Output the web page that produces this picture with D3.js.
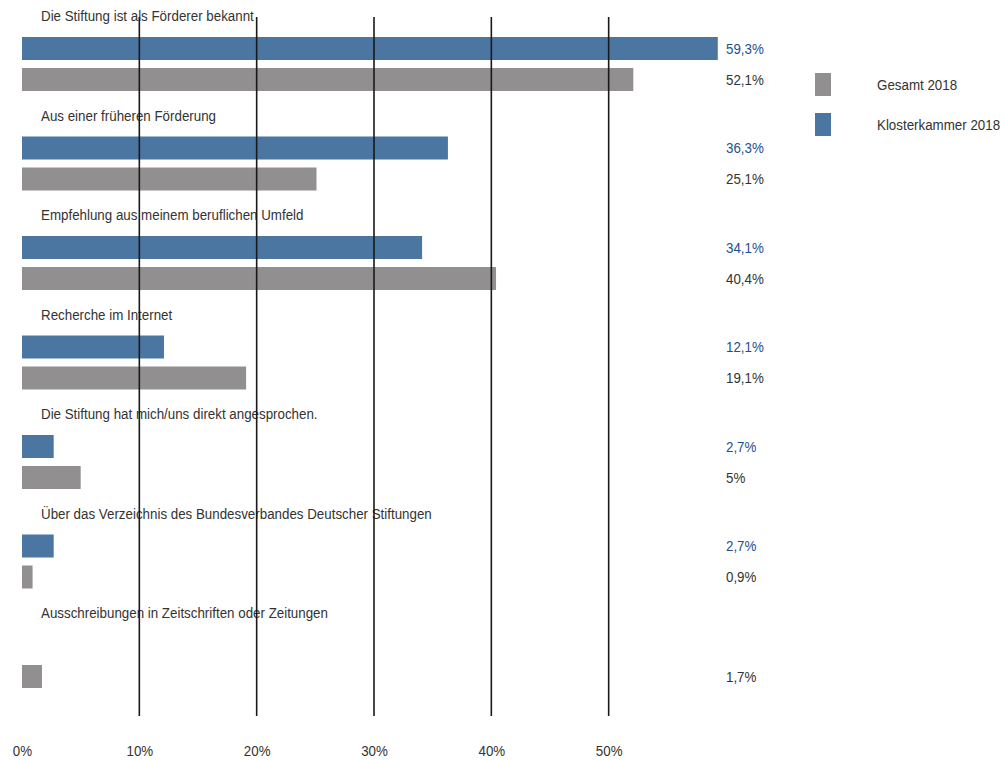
<!DOCTYPE html>
<html>
<head>
<meta charset="utf-8">
<script src="https://cdn.jsdelivr.net/npm/d3@7"></script>
<style>
  html, body { margin: 0; padding: 0; background: #ffffff; }
  svg text { font-family: "Liberation Sans", Arial, sans-serif; }
</style>
</head>
<body>
<svg id="chart" width="1006" height="760"></svg>
<script>
// Survey answers: how applicants learned about the foundation
const categories = [
  "Die Stiftung ist als Förderer bekannt",
  "Aus einer früheren Förderung",
  "Empfehlung aus meinem beruflichen Umfeld",
  "Recherche im Internet",
  "Die Stiftung hat mich/uns direkt angesprochen.",
  "Über das Verzeichnis des Bundesverbandes Deutscher Stiftungen",
  "Ausschreibungen in Zeitschriften oder Zeitungen"
];
const klosterkammer = [59.3, 36.3, 34.1, 12.1, 2.7, 2.7, null];
const gesamt = [52.1, 25.1, 40.4, 19.1, 5, 0.9, 1.7];
const klosterLabels = ["59,3%", "36,3%", "34,1%", "12,1%", "2,7%", "2,7%", null];
const gesamtLabels = ["52,1%", "25,1%", "40,4%", "19,1%", "5%", "0,9%", "1,7%"];
const tickValues = [0, 10, 20, 30, 40, 50];
const legendItems = ["Gesamt 2018", "Klosterkammer 2018"];

const BLUE = "#4a76a1";
const GRAY = "#918f90";
const BLUE_TEXT = "#1f4f8f";
const DARK_TEXT = "#333333";
const FONT_SIZE = 15;
const NARROW = 0.89; // horizontal squeeze to get a narrow sans look

const svg = d3.select("#chart");

const x = d3.scaleLinear().domain([0, 60]).range([22, 726]);
const groupBand = d3.scaleBand().domain(d3.range(categories.length)).range([17, 713.5]).paddingInner(0).paddingOuter(0);
const barH = 23;
const blueTop = i => groupBand(i) + 20;
const grayTop = i => groupBand(i) + 51;

// helper: condensed text anchored at (px, py)
function narrowText(sel, px, py, anchor) {
  sel.attr("transform", (d, i) => `translate(${px(d, i)},${py(d, i)}) scale(${NARROW},1)`)
    .attr("text-anchor", anchor || "start")
    .attr("dominant-baseline", "central")
    .attr("font-size", FONT_SIZE);
  return sel;
}

// category captions
svg.append("g").selectAll("text")
  .data(categories)
  .join("text")
  .call(narrowText, () => 41, (d, i) => groupBand(i) - 1)
  .attr("fill", DARK_TEXT)
  .text(d => d);

// Klosterkammer bars
svg.append("g").selectAll("rect")
  .data(klosterkammer.map((v, i) => ({ v, i })).filter(d => d.v != null))
  .join("rect")
  .attr("x", x(0))
  .attr("y", d => blueTop(d.i))
  .attr("width", d => x(d.v) - x(0))
  .attr("height", barH)
  .attr("fill", BLUE);

// Gesamt bars
svg.append("g").selectAll("rect")
  .data(gesamt.map((v, i) => ({ v, i })))
  .join("rect")
  .attr("x", x(0))
  .attr("y", d => grayTop(d.i))
  .attr("width", d => x(d.v) - x(0))
  .attr("height", barH)
  .attr("fill", GRAY);

// value labels in the right column
svg.append("g").selectAll("text")
  .data(klosterLabels.map((t, i) => ({ t, i })).filter(d => d.t != null))
  .join("text")
  .call(narrowText, () => x(60), d => blueTop(d.i) + barH / 2)
  .attr("fill", BLUE_TEXT)
  .text(d => d.t);

svg.append("g").selectAll("text")
  .data(gesamtLabels.map((t, i) => ({ t, i })))
  .join("text")
  .call(narrowText, () => x(60), d => grayTop(d.i) + barH / 2)
  .attr("fill", DARK_TEXT)
  .text(d => d.t);

// vertical gridlines drawn over the bars
svg.append("g").selectAll("line")
  .data(tickValues.filter(v => v > 0))
  .join("line")
  .attr("x1", d => x(d)).attr("x2", d => x(d))
  .attr("y1", 17).attr("y2", 716)
  .attr("stroke", "#1a1a1a")
  .attr("stroke-width", 1.6);

// bottom axis labels
const axis = d3.axisBottom(x).tickValues(tickValues).tickSize(0).tickFormat(d => d + "%");
const axisG = svg.append("g").attr("transform", "translate(0,742)").call(axis);
axisG.select(".domain").remove();
axisG.selectAll("text")
  .attr("font-size", FONT_SIZE)
  .attr("fill", DARK_TEXT)
  .attr("font-family", null)
  .attr("transform", `scale(${NARROW},1)`);

// legend
const legendColors = [GRAY, BLUE];
const legend = svg.append("g").selectAll("g")
  .data(legendItems)
  .join("g")
  .attr("transform", (d, i) => `translate(815,${73 + i * 40})`);
legend.append("rect")
  .attr("width", 16).attr("height", 23)
  .attr("fill", (d, i) => legendColors[i]);
legend.append("text")
  .call(narrowText, () => 62, () => 11.5)
  .attr("fill", DARK_TEXT)
  .text(d => d);
</script>
</body>
</html>
